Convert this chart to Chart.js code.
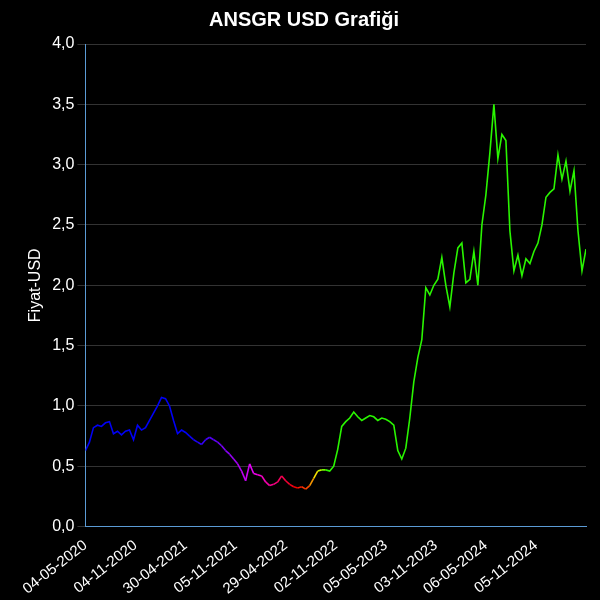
<!DOCTYPE html>
<html><head><meta charset="utf-8">
<script src="https://cdn.jsdelivr.net/npm/chart.js@4"></script>
<style>html,body{margin:0;background:#000}#w{width:600px;height:600px}</style>
</head><body><div id="w"><canvas id="c"></canvas></div>
<script>
const tickLabels=["04-05-2020","04-11-2020","30-04-2021","05-11-2021","29-04-2022","02-11-2022","05-05-2023","03-11-2023","06-05-2024","05-11-2024"];
const prices=[0.63,0.70,0.82,0.84,0.83,0.86,0.87,0.77,0.79,0.76,0.79,0.80,0.72,0.84,0.80,0.82,0.88,0.94,1.00,1.07,1.06,1.00,0.88,0.77,0.80,0.78,0.75,0.72,0.70,0.68,0.72,0.74,0.72,0.70,0.67,0.63,0.60,0.56,0.52,0.46,0.38,0.52,0.44,0.43,0.42,0.37,0.34,0.35,0.37,0.42,0.38,0.35,0.33,0.32,0.33,0.31,0.34,0.40,0.46,0.47,0.47,0.46,0.50,0.64,0.83,0.87,0.90,0.95,0.91,0.88,0.90,0.92,0.91,0.88,0.90,0.89,0.87,0.84,0.63,0.56,0.65,0.90,1.20,1.40,1.55,1.98,1.92,2.00,2.05,2.23,2.00,1.82,2.10,2.31,2.35,2.02,2.05,2.28,2.00,2.50,2.75,3.10,3.50,3.05,3.25,3.20,2.45,2.12,2.25,2.08,2.22,2.18,2.28,2.35,2.50,2.73,2.77,2.80,3.08,2.88,3.03,2.78,2.95,2.45,2.12,2.30];
const step=12.5;
function colorAt(i){
  const f=i/(prices.length-1);
  let h;
  if(f<0.2){h=240;}
  else if(f<0.32){h=240+(f-0.2)/0.12*50;}
  else if(f<0.4){h=290+(f-0.32)/0.08*58;}
  else if(f<0.44){h=348+(f-0.4)/0.04*30;}
  else if(f<0.48){h=18+(f-0.44)/0.04*92;}
  else h=110;
  return `hsl(${h%360},100%,48%)`;
}
new Chart(document.getElementById('c'),{
  type:'line',
  data:{datasets:[{data:prices.map((v,i)=>({x:i,y:v})),borderWidth:1.6,pointRadius:0,tension:0,
    borderColor:'#22ff00',segment:{borderColor:ctx=>colorAt(ctx.p0DataIndex)}}]},
  options:{responsive:true,maintainAspectRatio:false,animation:false,
    layout:{padding:{right:14,left:22}},
    plugins:{legend:{display:false},title:{display:true,text:'ANSGR USD Grafiği',color:'#fff',font:{size:20,weight:'bold',family:'Liberation Sans'},padding:{top:8,bottom:12}}},
    scales:{
      x:{type:'linear',min:0,max:prices.length-1,
        grid:{display:false},border:{color:'#5b9bd5'},
        ticks:{stepSize:step,color:'#fff',font:{size:15,family:'Liberation Sans'},maxRotation:38,minRotation:38,padding:2,
          callback:v=>{const k=Math.round(v/step);return Math.abs(v-k*step)<0.01&&tickLabels[k]?tickLabels[k]:'';}},
        afterBuildTicks:s=>{s.ticks=tickLabels.map((_,k)=>({value:k*step}));}},
      y:{min:0,max:4,grid:{color:'#333'},border:{color:'#5b9bd5'},
        title:{display:true,text:'Fiyat-USD',color:'#fff',font:{size:16,family:'Liberation Sans'}},
        ticks:{stepSize:0.5,color:'#fff',font:{size:16,family:'Liberation Sans'},callback:v=>v.toFixed(1).replace('.',',')}}
    }}
});
</script></body></html>
